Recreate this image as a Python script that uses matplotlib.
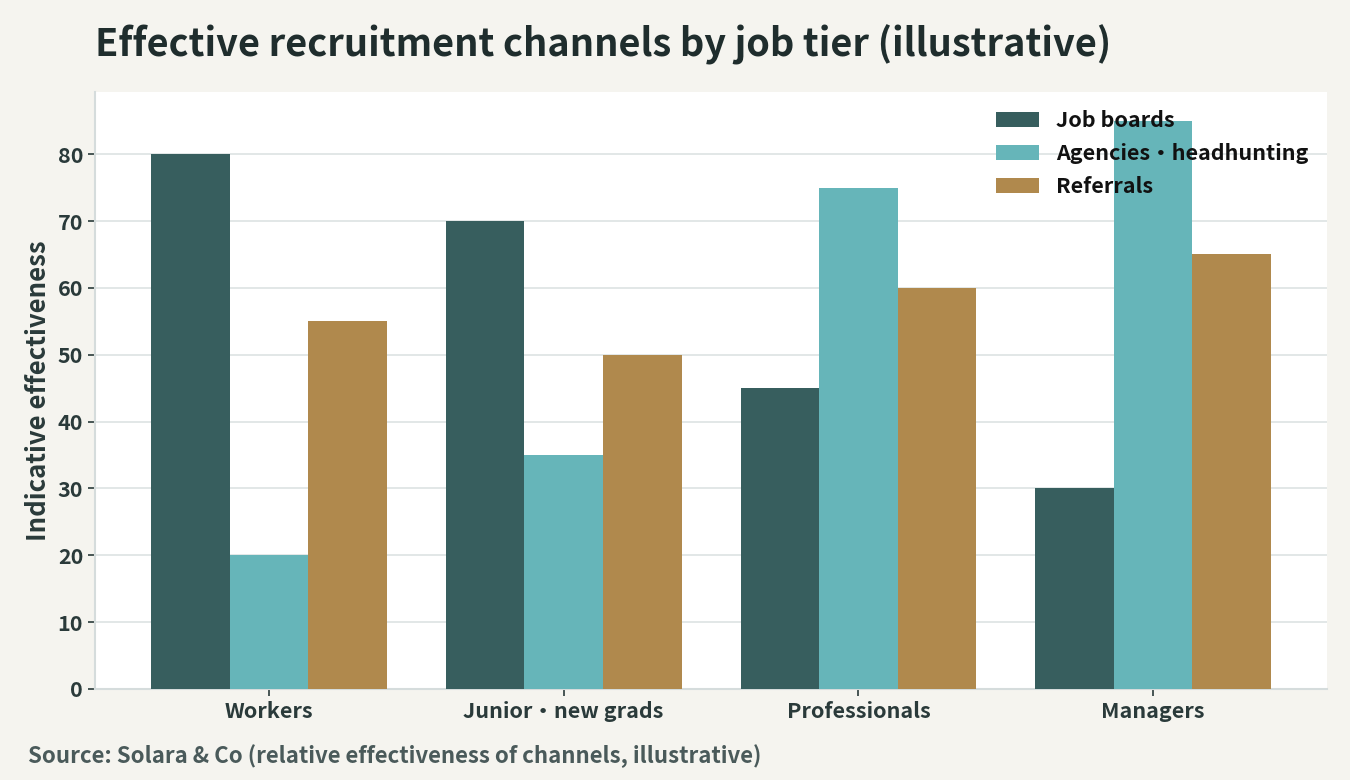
import numpy as np
import matplotlib
matplotlib.use("Agg")
import matplotlib.pyplot as plt

plt.rcParams['font.family'] = ['Noto Sans CJK JP', 'DejaVu Sans']

tiers = ["Workers", "Junior・new grads", "Professionals", "Managers"]
channels = ["Job boards", "Agencies・headhunting", "Referrals"]
job_boards = [80, 70, 45, 30]
agencies = [20, 35, 75, 85]
referrals = [55, 50, 60, 65]

colors = ["#375e5e", "#66b5b9", "#b0894d"]

fig = plt.figure(figsize=(13.5, 7.8), dpi=100)
fig.patch.set_facecolor("#f5f4ef")
ax = fig.add_axes([0.0704, 0.1167, 0.9126, 0.7653])
ax.set_facecolor("white")

x = np.arange(len(tiers))
w = 0.8 / 3
for i, (vals, name) in enumerate(zip([job_boards, agencies, referrals], channels)):
    ax.bar(x + (i - 1) * w, vals, width=w, color=colors[i], label=name, zorder=3)

ax.set_xlim(-0.59, 3.59)
ax.set_ylim(0, 89.3)
ax.set_yticks(range(0, 90, 10))
ax.set_xticks(x)
ax.set_xticklabels(tiers)
ax.grid(axis="y", color="#dde3e3", linewidth=1.2, zorder=0)

for s in ["top", "right"]:
    ax.spines[s].set_visible(False)
for s in ["left", "bottom"]:
    ax.spines[s].set_color("#d5dcdc")
    ax.spines[s].set_linewidth(1.5)

ax.tick_params(axis="both", colors="#2a3a3a", labelsize=15.5, length=5, width=1.2)
for lab in ax.get_xticklabels() + ax.get_yticklabels():
    lab.set_fontweight("bold")
    lab.set_color("#2a3a3a")

ax.set_ylabel("Indicative effectiveness", fontsize=18.5, fontweight="bold", color="#2a3a3a", labelpad=4)

leg = ax.legend(loc="upper right", frameon=False, fontsize=15.5, handlelength=2.0, handleheight=0.7,
                handletextpad=0.8, labelspacing=0.55, borderaxespad=0.45, bbox_to_anchor=(1.0, 1.0))
for t in leg.get_texts():
    t.set_fontweight("bold")
    t.set_color("#111111")

fig.text(0.0704, 0.942, "Effective recruitment channels by job tier (illustrative)", fontsize=27.3,
         fontweight="bold", color="#1f2d2d", va="center", ha="left")
fig.text(0.021, 0.031, "Source: Solara & Co (relative effectiveness of channels, illustrative)", fontsize=16,
         fontweight="bold", color="#4a5a5a", va="center", ha="left")

fig.savefig("out.png", dpi=100, facecolor=fig.get_facecolor())
